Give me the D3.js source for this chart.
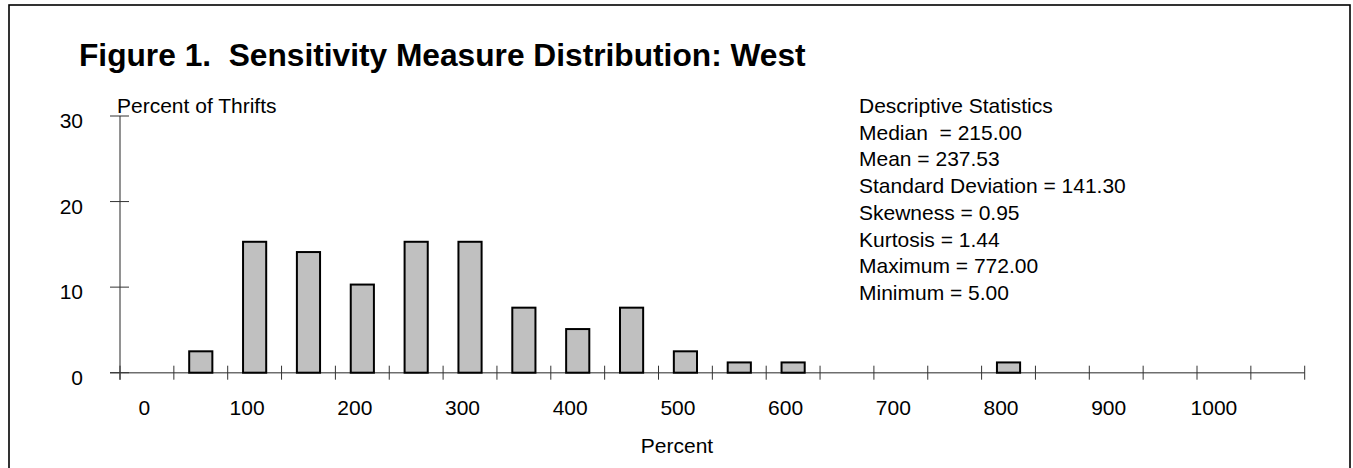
<!DOCTYPE html>
<html>
<head>
<meta charset="utf-8">
<script src="https://cdn.jsdelivr.net/npm/d3@7"></script>
<style>
  body { margin: 0; background: #fff; }
  text { font-family: Arial, "Liberation Sans", sans-serif; fill: #000; }
</style>
</head>
<body>
<script>
// histogram bins (bin centre, percent of thrifts)
var binCenters = [50, 100, 150, 200, 250, 300, 350, 400, 450, 500, 550, 600, 800];
var binPercents = [2.5, 15.3, 14.1, 10.3, 15.3, 15.3, 7.6, 5.1, 7.6, 2.5, 1.2, 1.2, 1.2];

var xTickLabels = [0, 100, 200, 300, 400, 500, 600, 700, 800, 900, 1000];
var yTickLabels = [0, 10, 20, 30];

var statLines = [
  "Descriptive Statistics",
  "Median  = 215.00",
  "Mean = 237.53",
  "Standard Deviation = 141.30",
  "Skewness = 0.95",
  "Kurtosis = 1.44",
  "Maximum = 772.00",
  "Minimum = 5.00"
];

var width = 1353,
    height = 468,
    binWidth = 50,
    fontSize = "21px";

var svg = d3.select("body").append("svg")
    .attr("width", width)
    .attr("height", height);

// outer frame
svg.append("rect")
    .attr("x", 9)
    .attr("y", 5)
    .attr("width", 1341)
    .attr("height", 520)
    .attr("fill", "none")
    .attr("stroke", "#000")
    .attr("stroke-width", 1.6);

var x = d3.scaleLinear()
    .domain([-binWidth / 2, 1100 - binWidth / 2])
    .range([120, 1304.7]);

var y = d3.scaleLinear()
    .domain([0, 30])
    .range([372.7, 116]);

svg.append("text")
    .attr("x", 79)
    .attr("y", 66)
    .style("font-size", "31.7px")
    .style("font-weight", "bold")
    .style("white-space", "pre")
    .text("Figure 1.  Sensitivity Measure Distribution: West");

// axis lines
svg.append("line")
    .attr("x1", 110).attr("x2", x.range()[1])
    .attr("y1", y(0)).attr("y2", y(0))
    .attr("stroke", "#6e6e6e")
    .attr("stroke-width", 1.5);

svg.append("line")
    .attr("x1", x.range()[0]).attr("x2", x.range()[0])
    .attr("y1", y(30)).attr("y2", y(0) + 7)
    .attr("stroke", "#6e6e6e")
    .attr("stroke-width", 1.5);

// x ticks sit on the bin edges
var edges = d3.range(-binWidth / 2, 1100, binWidth);

svg.selectAll(".xtick")
    .data(edges)
  .enter().append("line")
    .attr("class", "xtick")
    .attr("x1", function(d) { return x(d); })
    .attr("x2", function(d) { return x(d); })
    .attr("y1", y(0) - 7)
    .attr("y2", y(0) + 7)
    .attr("stroke", "#333")
    .attr("stroke-width", 1);

svg.selectAll(".ytick")
    .data(yTickLabels)
  .enter().append("line")
    .attr("class", "ytick")
    .attr("x1", 110)
    .attr("x2", 129)
    .attr("y1", function(d) { return y(d); })
    .attr("y2", function(d) { return y(d); })
    .attr("stroke", "#333")
    .attr("stroke-width", 1);

svg.selectAll(".xlabel")
    .data(xTickLabels)
  .enter().append("text")
    .attr("class", "xlabel")
    .attr("x", function(d) { return x(d) - String(d).length * 2.5; })
    .attr("y", 415)
    .attr("text-anchor", "middle")
    .style("font-size", fontSize)
    .text(function(d) { return d; });

svg.selectAll(".ylabel")
    .data(yTickLabels)
  .enter().append("text")
    .attr("class", "ylabel")
    .attr("x", 83)
    .attr("y", function(d) { return y(d) + 12; })
    .attr("text-anchor", "end")
    .style("font-size", fontSize)
    .text(function(d) { return d; });

// bars
var barW = binWidth * 0.43;

svg.selectAll(".bar")
    .data(binCenters)
  .enter().append("rect")
    .attr("class", "bar")
    .attr("x", function(d) { return x(d - barW / 2); })
    .attr("y", function(d, i) { return y(binPercents[i]); })
    .attr("width", x(barW) - x(0))
    .attr("height", function(d, i) { return y(0) - y(binPercents[i]); })
    .attr("fill", "#c0c0c0")
    .attr("stroke", "#000")
    .attr("stroke-width", 2);

svg.append("text")
    .attr("x", 117)
    .attr("y", 113)
    .style("font-size", fontSize)
    .text("Percent of Thrifts");

svg.append("text")
    .attr("x", 677)
    .attr("y", 453)
    .attr("text-anchor", "middle")
    .style("font-size", fontSize)
    .text("Percent");

svg.selectAll(".stat")
    .data(statLines)
  .enter().append("text")
    .attr("class", "stat")
    .attr("x", 859)
    .attr("y", function(d, i) { return 113 + i * 26.7; })
    .style("font-size", fontSize)
    .style("white-space", "pre")
    .text(function(d) { return d; });
</script>
</body>
</html>
